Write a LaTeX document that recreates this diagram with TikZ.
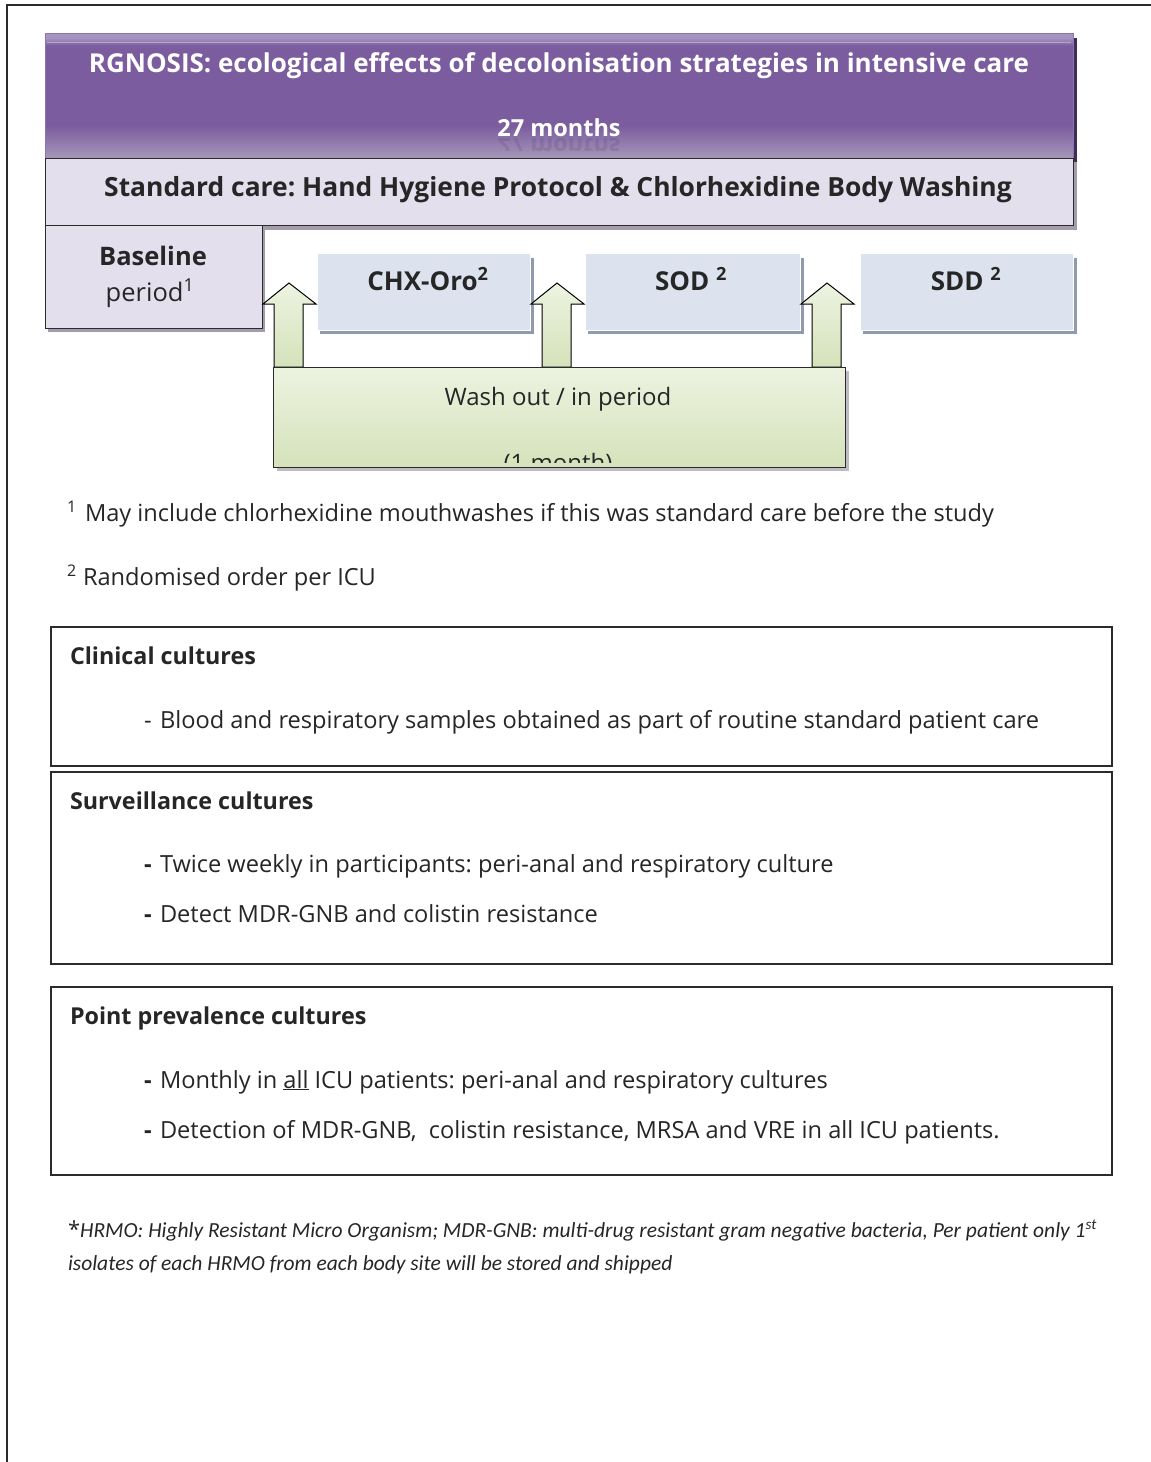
\documentclass[tikz,border=0pt]{standalone}
\usepackage{fontspec}
\setmainfont{Open Sans}
\newfontfamily\calfont{Carlito}
\usetikzlibrary{calc}
\frenchspacing
\definecolor{txt}{HTML}{262626}
\definecolor{frame}{HTML}{2B2B2B}
\definecolor{ptop}{HTML}{A594C2}
\definecolor{pmid}{HTML}{7B5C9F}
\definecolor{pbot}{HTML}{A597B8}
\definecolor{pedge}{HTML}{8C76AE}
\definecolor{pshadow}{HTML}{3E2D57}
\definecolor{lav}{HTML}{E4DFEC}
\definecolor{lavshadow}{HTML}{A39CAD}
\definecolor{blu}{HTML}{DCE3EF}
\definecolor{blushadow}{HTML}{8E9BAF}
\definecolor{gtop}{HTML}{EDF3E1}
\definecolor{gbot}{HTML}{D5E2BA}
\pgfdeclareverticalshading{purp}{100bp}{color(0bp)=(pbot); color(25bp)=(pbot); color(38bp)=(pmid); color(70bp)=(pmid); color(73bp)=(ptop); color(75bp)=(ptop); color(100bp)=(ptop)}
\tikzset{
  every node/.style={inner sep=0pt, outer sep=0pt, text=txt},
  lavbox/.style={draw=frame, line width=1pt, fill=lav, anchor=north west},
  blubox/.style={draw=white, line width=1pt, fill=blu, anchor=north west},
  cbox/.style={draw=frame, line width=1.5pt, fill=white, anchor=north west, minimum width=1061pt},
  body/.style={font=\fontsize{23.6}{28}\selectfont, anchor=base west},
  bodyb/.style={font=\fontsize{23.3}{28}\selectfont\bfseries, anchor=base west},
  dashb/.style={font=\fontsize{23.6}{28}\selectfont\bfseries, anchor=base west},
  blockarrow/.style={draw=black, line width=1pt, top color=gtop, bottom color=gbot},
}
\newcommand\uparr[1]{%
  \path[blockarrow] (#1-15,367) -- (#1-15,304) -- (#1-26,304) -- (#1,283) -- (#1+27,304) -- (#1+14,304) -- (#1+14,367) -- cycle;}
\begin{document}
\begin{tikzpicture}[x=1pt,y=-1pt]
\useasboundingbox (0,0) rectangle (1151,1462);
\fill[white] (0,0) rectangle (1151,1462);
% outer frame (top and left only)
\draw[frame, line width=2pt] (7,1462) -- (7,5) -- (1151,5);

% title box
\fill[pshadow] (49,38) rectangle (1077,162);
\node[draw=pedge, line width=1pt, shading=purp, anchor=north west, minimum width=1028pt, minimum height=125pt] (title) at (45,33) {};
\draw[white, opacity=0.35, line width=1pt] (47,42) -- (1071,42);
\node[font=\fontsize{26}{30}\selectfont\bfseries, text=white, anchor=base] (ttl) at (559,72) {RGNOSIS: ecological effects of decolonisation strategies in intensive care};
\node[font=\fontsize{23.5}{28}\selectfont\bfseries, text=white, anchor=base] (months) at (559,136) {27 months};
\begin{scope}
\clip (46,137) rectangle (1072,150);
\node[font=\fontsize{23.5}{28}\selectfont\bfseries, text=pshadow, opacity=0.15, anchor=base, yscale=-1] (monthsrefl) at (559,138) {27 months};
\end{scope}

% standard care
\fill[lavshadow] (49,162) rectangle (1077,230);
\node[lavbox, minimum width=1028pt, minimum height=67pt] (std) at (45,158) {};
\node[font=\fontsize{26.4}{30}\selectfont\bfseries, anchor=base] (stdt) at (558,196) {Standard care: Hand Hygiene Protocol \& Chlorhexidine Body Washing};

% baseline
\fill[lavshadow] (48,229) rectangle (265,332);
\node[lavbox, minimum width=217pt, minimum height=103pt] (base) at (45,225) {};
\node[font=\fontsize{25.5}{30}\selectfont\bfseries, anchor=base] (baset) at (153,265) {Baseline};
\node[font=\fontsize{25.5}{30}\selectfont, anchor=base] (basep) at (150,301) {period\textsuperscript{1}};

% treatment boxes
\fill[blushadow] (320,258) rectangle (534,334);
\fill[blushadow] (588,258) rectangle (804,334);
\fill[blushadow] (863,258) rectangle (1077,334);
\node[blubox, minimum width=213pt, minimum height=77pt] (chx) at (317,253) {};
\node[blubox, minimum width=215pt, minimum height=77pt] (sod) at (585,253) {};
\node[blubox, minimum width=213pt, minimum height=77pt] (sdd) at (860,253) {};
\node[font=\fontsize{26}{30}\selectfont\bfseries, anchor=base] (chxt) at (428,290) {CHX-Oro\textsuperscript{2}};
\node[font=\fontsize{26}{30}\selectfont\bfseries, anchor=base] (sodt) at (691,290) {SOD \textsuperscript{2}};
\node[font=\fontsize{26}{30}\selectfont\bfseries, anchor=base] (sddt) at (966,290) {SDD \textsuperscript{2}};

% block arrows
\uparr{289}
\uparr{557}
\uparr{827}

% wash out box
\fill[lavshadow!70] (277,371) rectangle (849,471);
\node[draw=frame, line width=1pt, top color=gtop, bottom color=gbot, anchor=north west, minimum width=572pt, minimum height=100pt] (wash) at (273,367) {};
\node[font=\fontsize{24}{28}\selectfont, anchor=base] (washt) at (558,405) {Wash out / in period};
\begin{scope}
\clip (274,368) rectangle (844,462);
\node[font=\fontsize{24}{28}\selectfont, anchor=base] (washm) at (558,471) {(1 month)};
\end{scope}

% footnotes
\node[font=\fontsize{16}{19}\selectfont, anchor=base west] (fn1s) at (67,512) {1};
\node[body] (fn1) at (85,521) {May include chlorhexidine mouthwashes if this was standard care before the study};
\node[font=\fontsize{16}{19}\selectfont, anchor=base west] (fn2s) at (67,576) {2};
\node[body] (fn2) at (83,585) {Randomised order per ICU};

% clinical cultures
\node[cbox, minimum height=139pt] (clin) at (51,627) {};
\node[bodyb] (clint) at (70,664) {Clinical cultures};
\node[body] (clind) at (144,728) {-};
\node[body] (clin1) at (160,728) {Blood and respiratory samples obtained as part of routine standard patient care};

% surveillance cultures
\node[cbox, minimum height=192pt] (surv) at (51,772) {};
\node[bodyb] (survt) at (70,809) {Surveillance cultures};
\node[dashb] (survd1) at (144,872) {-};
\node[body] (surv1) at (160,872) {Twice weekly in participants: peri-anal and respiratory culture};
\node[dashb] (survd2) at (144,922) {-};
\node[body] (surv2) at (160,922) {Detect MDR-GNB and colistin resistance};

% point prevalence cultures
\node[cbox, minimum height=188pt] (pp) at (51,987) {};
\node[bodyb] (ppt) at (70,1024) {Point prevalence cultures};
\node[dashb] (ppd1) at (144,1088) {-};
\node[body] (pp1) at (160,1088) {Monthly in \underline{all} ICU patients: peri-anal and respiratory cultures};
\node[dashb] (ppd2) at (144,1138) {-};
\node[body] (pp2) at (160,1138) {Detection of MDR-GNB,\ \ colistin resistance, MRSA and VRE in all ICU patients.};

% final footnote
\node[font=\fontsize{21.5}{26}\selectfont\calfont\itshape, anchor=base west] (hrmo1) at (68,1237) {{\rmfamily\upshape\fontsize{22}{26}\selectfont*}HRMO: Highly Resistant Micro Organism; MDR-GNB: multi-drug resistant gram negative bacteria, Per patient only 1\textsuperscript{st}};
\node[font=\fontsize{21.5}{26}\selectfont\calfont\itshape, anchor=base west] (hrmo2) at (68,1270) {isolates of each HRMO from each body site will be stored and shipped};
\end{tikzpicture}
\end{document}
